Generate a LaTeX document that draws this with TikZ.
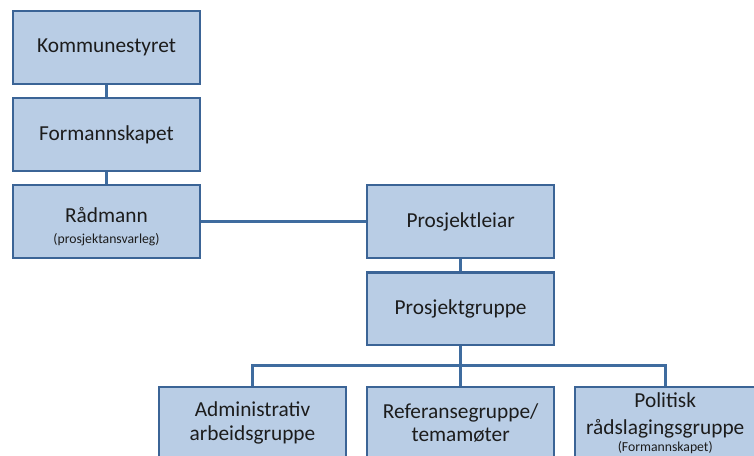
\documentclass[tikz,border=0pt]{standalone}
\usepackage{fontspec}
\setmainfont{Carlito}
\usetikzlibrary{positioning}
\definecolor{boxfill}{HTML}{B9CDE5}
\definecolor{boxline}{HTML}{3B6496}
\definecolor{linkcol}{HTML}{3F6C9F}
\definecolor{textcol}{HTML}{1C1C1C}
\newcommand{\smalltext}[1]{{\fontsize{10.3}{11}\selectfont #1}}

\begin{document}
\begin{tikzpicture}[node distance=9.25pt, x=0.75pt, y=-0.75pt,
    orgbox/.style={draw=boxline, fill=boxfill, line width=1.6pt, rectangle, minimum height=54.5pt, minimum width=140.25pt, inner sep=0pt, align=center, text=textcol, font=\fontsize{16}{17.5}\selectfont},
    link/.style={draw=linkcol, line width=2pt}]

    \useasboundingbox (0,0) rectangle (754,456);
    \clip (0,0) rectangle (754,456);

    % Left column nodes
    \node[orgbox] (komm) at (106.5,47.5) {Kommunestyret};
    \node[orgbox] (form) [below=of komm] {Formannskapet};
    \node[orgbox] (rad) [below=of form] {\raisebox{-9pt}[0pt][0pt]{\begin{tabular}{@{}c@{}}Rådmann\\[-1.5pt]\smalltext{(prosjektansvarleg)}\end{tabular}}};

    % Project column
    \node[orgbox] (pl) [right=123.75pt of rad] {Prosjektleiar};
    \node[orgbox] (pg) [below=of pl] {Prosjektgruppe};

    % Bottom row
    \node[orgbox] (ref) [below=29.5pt of pg] {Referansegruppe/\\temamøter};
    \node[orgbox] (adm) [left=14.25pt of ref] {Administrativ\\arbeidsgruppe};
    \node[orgbox, minimum width=135pt] (pol) [right=14.25pt of ref] {Politisk\\[3pt]rådslagingsgruppe\\[-5pt]\smalltext{(Formannskapet)}};
    \coordinate[below=14.5pt of pg] (bus);

    % Connectors
    \draw[link] (komm) -- (form);
    \draw[link] (form) -- (rad);
    \draw[link] (rad) -- (pl);
    \draw[link] (pl) -- (pg);
    \draw[link] (pg) -- (ref);
    \draw[link] (adm.north) |- (bus) -| (pol.north);

\end{tikzpicture}
\end{document}
